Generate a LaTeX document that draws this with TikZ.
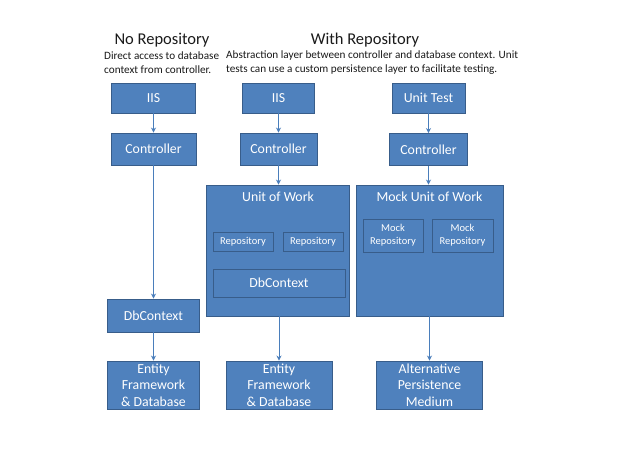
\documentclass[tikz,border=0pt]{standalone}
\usepackage{fontspec}
\setmainfont{Carlito}
\usetikzlibrary{arrows.meta}
\definecolor{boxfill}{HTML}{4F81BD}
\definecolor{boxline}{HTML}{385D8A}
\definecolor{arrowc}{HTML}{4A7EBB}
\definecolor{titlec}{HTML}{1A1A1A}
\tikzset{
  box/.style={draw=boxline, fill=boxfill, line width=0.9pt, text=white, inner sep=0pt, align=center, font=\fontsize{13.8}{16.5}\selectfont},
  smallbox/.style={box, font=\fontsize{10.5}{13}\selectfont},
  conn/.style={draw=arrowc, line width=0.8pt, -{Stealth[length=5pt,width=5pt]}},
  titletext/.style={text=titlec, inner sep=0pt, font=\fontsize{16.5}{19}\selectfont},
  subtext/.style={text=titlec, inner sep=0pt, align=left, anchor=west, font=\fontsize{11.2}{14}\selectfont},
  inlabel/.style={text=white, inner sep=0pt, font=\fontsize{13.8}{16}\selectfont},
}
\begin{document}
\begin{tikzpicture}[x=1pt,y=-1pt]
\useasboundingbox (0,0) rectangle (634,452);
\fill[white] (0,0) rectangle (634,452);
% titles
\node[titletext] (t1) at (162,40) {No Repository};
\node[titletext] (t2) at (365,40) {With Repository};
\node[subtext] (s1) at (104,63) {Direct access to database\\context from controller.};
\node[subtext] (s2) at (226,63) {Abstraction layer between controller and database context. Unit\\tests can use a custom persistence layer to facilitate testing.};
% column 1
\node[box, minimum width=84pt, minimum height=30pt] (iis1) at (153.5,98) {IIS};
\node[box, minimum width=85pt, minimum height=32pt] (ctl1) at (153.5,149) {Controller};
\node[box, minimum width=92pt, minimum height=33pt] (db1) at (153.5,315.5) {DbContext};
\node[box, minimum width=92pt, minimum height=48pt] (ef1) at (153.5,385) {Entity\\Framework\\\& Database};
% column 2
\node[box, minimum width=72pt, minimum height=30pt] (iis2) at (278.5,98) {IIS};
\node[box, minimum width=77pt, minimum height=32pt] (ctl2) at (278.5,149) {Controller};
\node[box, minimum width=143pt, minimum height=131pt] (uow) at (277.5,250.5) {};
\node[inlabel] (uowt) at (278,197) {Unit of Work};
\node[smallbox, minimum width=60pt, minimum height=19pt] (rep1) at (243,241.5) {Repository};
\node[smallbox, minimum width=60pt, minimum height=19pt] (rep2) at (313,241.5) {Repository};
\node[box, minimum width=132pt, minimum height=28pt] (db2) at (279,283) {DbContext};
\node[box, minimum width=106pt, minimum height=48pt] (ef2) at (279,385) {Entity\\Framework\\\& Database};
% column 3
\node[box, minimum width=73pt, minimum height=30pt] (ut) at (428.5,98) {Unit Test};
\node[box, minimum width=78pt, minimum height=32pt] (ctl3) at (428.5,149.5) {Controller};
\node[box, minimum width=147pt, minimum height=131pt] (muow) at (429.5,250.5) {};
\node[inlabel] (muowt) at (429.5,197) {Mock Unit of Work};
\node[smallbox, minimum width=60pt, minimum height=33pt] (mrep1) at (393,235.5) {Mock\\Repository};
\node[smallbox, minimum width=61pt, minimum height=33pt] (mrep2) at (462.5,235.5) {Mock\\Repository};
\node[box, minimum width=106pt, minimum height=48pt] (alt) at (429.5,385) {Alternative\\Persistence\\Medium};
% connectors
\draw[conn] (iis1.south) -- (ctl1.north);
\draw[conn] (ctl1.south) -- (db1.north);
\draw[conn] (db1.south) -- (ef1.north);
\draw[conn] (iis2.south) -- (ctl2.north);
\draw[conn] (ctl2.south) -- (ctl2.south |- uow.north);
\draw[conn] (uow.south -| ef2.north) -- (ef2.north);
\draw[conn] (ut.south) -- (ut.south |- ctl3.north);
\draw[conn] (ctl3.south) -- (ctl3.south |- muow.north);
\draw[conn] (muow.south) -- (alt.north);
\end{tikzpicture}
\end{document}
